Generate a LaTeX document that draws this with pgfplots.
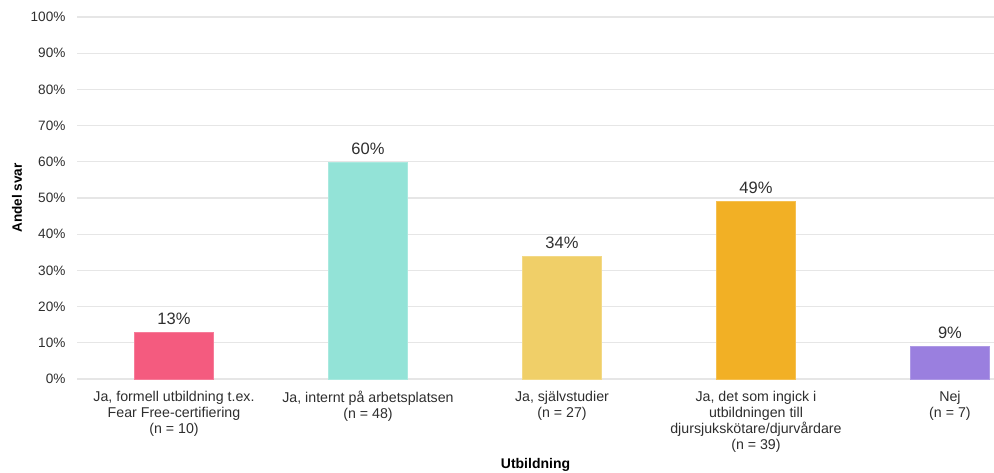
\documentclass[border=0pt]{standalone}
\usepackage{pgfplots}
\pgfplotsset{compat=1.18}
\usepackage{fontspec}
\setmainfont{Liberation Sans}
\definecolor{cA}{HTML}{F45B7F}
\definecolor{cB}{HTML}{93E3D7}
\definecolor{cC}{HTML}{F0CF68}
\definecolor{cD}{HTML}{F2B025}
\definecolor{cE}{HTML}{9A7FDF}
\definecolor{txt}{HTML}{2E2E2E}
\definecolor{grd}{HTML}{E6E6E6}
\begin{document}
\begin{tikzpicture}
\begin{axis}[
  scale only axis,
  width=917pt, height=362pt,
  xmin=-0.5, xmax=4.227, ymin=0, ymax=100,
  axis line style={draw=none},
  major tick length=0pt,
  /pgf/number format/assume math mode=true,
  ymajorgrids, grid style={draw=grd, line width=1.2pt},
  ytick={0,10,...,100},
  yticklabels={0\%,10\%,20\%,30\%,40\%,50\%,60\%,70\%,80\%,90\%,100\%},
  yticklabel style={font=\fontsize{13.6}{16}\selectfont, text=txt, xshift=-8pt},
  xtick={0,1,2,3,4},
  xticklabels={{Ja, formell utbildning t.ex.\\Fear Free-certifiering\\(n = 10)},
               {Ja, internt på arbetsplatsen\\(n = 48)},
               {Ja, självstudier\\(n = 27)},
               {Ja, det som ingick i\\utbildningen till\\djursjukskötare/djurvårdare\\(n = 39)},
               {Nej\\(n = 7)}},
  xticklabel style={font=\fontsize{14.2}{16}\selectfont, text=txt, align=center, anchor=north, yshift=-9pt},
  xlabel={\textbf{Utbildning}},
  xlabel style={font=\fontsize{14}{16}\selectfont, at={(axis description cs:0.5,0)}, anchor=center, yshift=-86pt},
  ylabel={\textbf{Andel svar}},
  ylabel style={font=\fontsize{13.6}{16}\selectfont, at={(axis description cs:0,0.5)}, anchor=center, rotate=0, yshift=60pt},
  ybar, bar width=79pt, bar shift=0pt,
  nodes near coords={\pgfmathprintnumber{\pgfplotspointmeta}\%},
  nodes near coords style={font=\fontsize{16.5}{18}\selectfont, text=txt, anchor=south, yshift=4pt},
  clip=true,
]
\addplot[fill=cA, draw=cA!80!white] coordinates {(0,13)};
\addplot[fill=cB, draw=cB!80!white] coordinates {(1,60)};
\addplot[fill=cC, draw=cC!80!white] coordinates {(2,34)};
\addplot[fill=cD, draw=cD!80!white] coordinates {(3,49)};
\addplot[fill=cE, draw=cE!80!white] coordinates {(4,9)};
\end{axis}
\pgfresetboundingbox
\path (-77pt,-93pt) rectangle (917pt,379pt);
\end{tikzpicture}
\end{document}
